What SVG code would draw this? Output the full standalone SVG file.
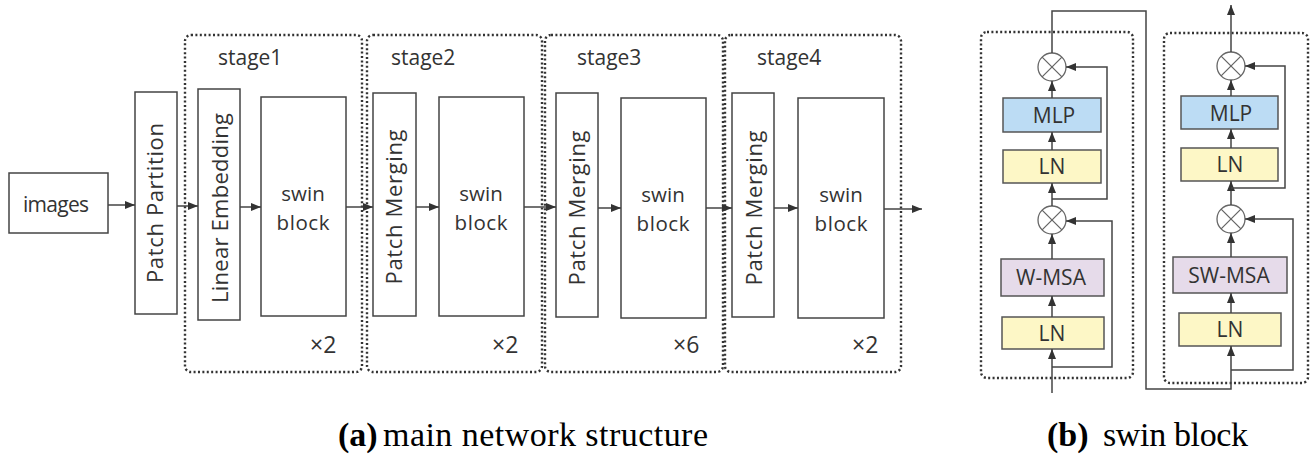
<svg xmlns="http://www.w3.org/2000/svg" width="1314" height="454" viewBox="0 0 1314 454">
  <style>
    .box { fill: #ffffff; stroke: #444444; stroke-width: 1.5; }
    .stage { fill: none; stroke: #333333; stroke-width: 2.4; stroke-dasharray: 2 2.4; }
    .lbl { font-family: "Open Sans", "Noto Sans", sans-serif; fill: #333333; }
    .blk { font-family: "Open Sans", "Noto Sans", sans-serif; fill: #333333; font-size: 20.5px; text-anchor: middle; }
    .wire-a { fill: none; stroke: #444444; stroke-width: 1.5; marker-end: url(#arrow); }
    .mlp { fill: #bcdcf4; stroke: #555555; stroke-width: 1.5; }
    .ln { fill: #fdf7c6; stroke: #555555; stroke-width: 1.5; }
    .msa { fill: #e6dbea; stroke: #555555; stroke-width: 1.5; }
    .op { fill: #ffffff; stroke: #666666; stroke-width: 1.3; }
    .cap { font-family: "Liberation Serif", "Times New Roman", serif; fill: #000000; font-size: 34px; }
  </style>
  <defs>
    <marker id="arrow" viewBox="0 0 10 8" refX="10" refY="4" markerWidth="10" markerHeight="8" markerUnits="userSpaceOnUse" orient="auto">
      <path d="M0,0 L10,4 L0,8 z" fill="#333333"/>
    </marker>
    <g id="xop">
      <circle class="op" cx="0" cy="0" r="14"/>
      <path d="M-9.9,-9.9 L9.9,9.9 M-9.9,9.9 L9.9,-9.9" stroke="#666666" stroke-width="1.3"/>
    </g>
  </defs>

  <!-- (a) main network structure -->
  <g id="stage1">
    <rect class="stage" x="185" y="35" width="177" height="337" rx="6"/>
    <text class="lbl" x="218" y="65" font-size="21">stage1</text>
    <text class="lbl" x="310" y="353" font-size="23">×2</text>
  </g>
  <g id="stage2">
    <rect class="stage" x="367" y="35" width="175" height="337" rx="6"/>
    <text class="lbl" x="391" y="65" font-size="21">stage2</text>
    <text class="lbl" x="492" y="353" font-size="23">×2</text>
  </g>
  <g id="stage3">
    <rect class="stage" x="545" y="35" width="178" height="337" rx="6"/>
    <text class="lbl" x="577" y="65" font-size="21">stage3</text>
    <text class="lbl" x="673" y="353" font-size="23">×6</text>
  </g>
  <g id="stage4">
    <rect class="stage" x="725" y="35" width="176" height="337" rx="6"/>
    <text class="lbl" x="757" y="65" font-size="21">stage4</text>
    <text class="lbl" x="852" y="353" font-size="23">×2</text>
  </g>

  <g id="images">
    <rect class="box" x="9" y="173" width="99" height="60"/>
    <text class="lbl" x="56" y="212" font-size="21" text-anchor="middle" textLength="66">images</text>
  </g>
  <g id="patch-partition">
    <rect class="box" x="135" y="92" width="42" height="222"/>
    <text class="lbl" font-size="22" text-anchor="middle" textLength="160" transform="translate(163,203) rotate(-90)">Patch Partition</text>
  </g>
  <g id="linear-embedding">
    <rect class="box" x="198" y="89" width="42" height="231"/>
    <text class="lbl" font-size="22" text-anchor="middle" textLength="190" transform="translate(228,208) rotate(-90)">Linear Embedding</text>
  </g>
  <g id="swin1">
    <rect class="box" x="261" y="97" width="85" height="219"/>
    <text class="blk" x="303" y="201">swin</text>
    <text class="blk" x="303" y="229.5" textLength="53">block</text>
  </g>
  <g id="patch-merging2">
    <rect class="box" x="373" y="93" width="43" height="223"/>
    <text class="lbl" font-size="22" text-anchor="middle" textLength="155" transform="translate(402,207) rotate(-90)">Patch Merging</text>
  </g>
  <g id="swin2">
    <rect class="box" x="439" y="97" width="85" height="219"/>
    <text class="blk" x="481" y="201">swin</text>
    <text class="blk" x="481" y="229.5" textLength="53">block</text>
  </g>
  <g id="patch-merging3">
    <rect class="box" x="556" y="93" width="42" height="224"/>
    <text class="lbl" font-size="22" text-anchor="middle" textLength="155" transform="translate(585,208) rotate(-90)">Patch Merging</text>
  </g>
  <g id="swin3">
    <rect class="box" x="621" y="98" width="85" height="220"/>
    <text class="blk" x="663" y="202">swin</text>
    <text class="blk" x="663" y="230.5" textLength="53">block</text>
  </g>
  <g id="patch-merging4">
    <rect class="box" x="732" y="93" width="42" height="224"/>
    <text class="lbl" font-size="22" text-anchor="middle" textLength="155" transform="translate(762,208) rotate(-90)">Patch Merging</text>
  </g>
  <g id="swin4">
    <rect class="box" x="798" y="98" width="86" height="220"/>
    <text class="blk" x="841" y="202">swin</text>
    <text class="blk" x="841" y="230.5" textLength="53">block</text>
  </g>

  <!-- (b) swin block detail -->
  <g id="block-wmsa">
    <rect class="stage" x="981" y="32" width="152" height="346" rx="6"/>
    <rect class="mlp" x="1003" y="98" width="98" height="34"/>
    <text class="lbl" x="1054" y="123" font-size="21" text-anchor="middle">MLP</text>
    <rect class="ln" x="1003" y="150" width="98" height="33"/>
    <text class="lbl" x="1052" y="174" font-size="21" text-anchor="middle">LN</text>
    <rect class="msa" x="1001" y="259" width="103" height="37"/>
    <text class="lbl" x="1051" y="285" font-size="21" text-anchor="middle">W-MSA</text>
    <rect class="ln" x="1002" y="317" width="102" height="32"/>
    <text class="lbl" x="1052" y="341" font-size="21" text-anchor="middle">LN</text>
    <use href="#xop" x="1052" y="67"/>
    <use href="#xop" x="1052" y="220"/>
  </g>
  <g id="block-swmsa">
    <rect class="stage" x="1164" y="33" width="144" height="350" rx="6"/>
    <rect class="mlp" x="1181" y="96" width="97" height="33"/>
    <text class="lbl" x="1231" y="121" font-size="21" text-anchor="middle">MLP</text>
    <rect class="ln" x="1181" y="148" width="97" height="33"/>
    <text class="lbl" x="1230" y="172" font-size="21" text-anchor="middle">LN</text>
    <rect class="msa" x="1173" y="257" width="114" height="36"/>
    <text class="lbl" x="1229" y="283" font-size="21" text-anchor="middle">SW-MSA</text>
    <rect class="ln" x="1179" y="313" width="102" height="33"/>
    <text class="lbl" x="1230" y="337" font-size="21" text-anchor="middle">LN</text>
    <use href="#xop" x="1231" y="66"/>
    <use href="#xop" x="1231" y="219"/>
  </g>

  <g id="connectors">
    <!-- main pipeline -->
    <line class="wire-a" x1="108" y1="205" x2="135" y2="205"/>
    <line class="wire-a" x1="177" y1="206" x2="198" y2="206"/>
    <line class="wire-a" x1="240" y1="207" x2="261" y2="207"/>
    <line class="wire-a" x1="346" y1="207" x2="373" y2="207"/>
    <line class="wire-a" x1="416" y1="207" x2="439" y2="207"/>
    <line class="wire-a" x1="524" y1="207" x2="556" y2="207"/>
    <line class="wire-a" x1="598" y1="208" x2="621" y2="208"/>
    <line class="wire-a" x1="706" y1="208" x2="732" y2="208"/>
    <line class="wire-a" x1="774" y1="208" x2="798" y2="208"/>
    <line class="wire-a" x1="884" y1="209" x2="922" y2="209"/>

    <!-- W-MSA block -->
    <line class="wire-a" x1="1052" y1="393" x2="1052" y2="349"/>
    <polyline class="wire-a" points="1052,367 1112,367 1112,221 1066,221"/>
    <line class="wire-a" x1="1052" y1="317" x2="1052" y2="296"/>
    <line class="wire-a" x1="1052" y1="259" x2="1052" y2="234"/>
    <line class="wire-a" x1="1052" y1="206" x2="1052" y2="183"/>
    <polyline class="wire-a" points="1052,199 1107,199 1107,67 1066,67"/>
    <line class="wire-a" x1="1052" y1="150" x2="1052" y2="132"/>
    <line class="wire-a" x1="1052" y1="98" x2="1052" y2="81"/>
    <polyline class="wire-a" points="1052,53 1052,11 1146,11 1146,389 1231,389 1231,346"/>

    <!-- SW-MSA block -->
    <polyline class="wire-a" points="1231,370 1293,370 1293,219 1245,219"/>
    <line class="wire-a" x1="1231" y1="313" x2="1231" y2="293"/>
    <line class="wire-a" x1="1231" y1="257" x2="1231" y2="233"/>
    <line class="wire-a" x1="1231" y1="205" x2="1231" y2="181"/>
    <polyline class="wire-a" points="1231,188 1285,188 1285,66 1245,66"/>
    <line class="wire-a" x1="1231" y1="148" x2="1231" y2="129"/>
    <line class="wire-a" x1="1231" y1="96" x2="1231" y2="80"/>
    <line class="wire-a" x1="1231" y1="52" x2="1231" y2="5"/>
  </g>

  <g id="captions">
    <text class="cap" x="338" y="446" font-size="30" font-weight="bold">(a)</text>
    <text class="cap" x="383" y="446" textLength="325" lengthAdjust="spacing">main network structure</text>
    <text class="cap" x="1047" y="446" font-size="31" font-weight="bold">(b)</text>
    <text class="cap" x="1103" y="446" textLength="145" lengthAdjust="spacing">swin block</text>
  </g>
</svg>
